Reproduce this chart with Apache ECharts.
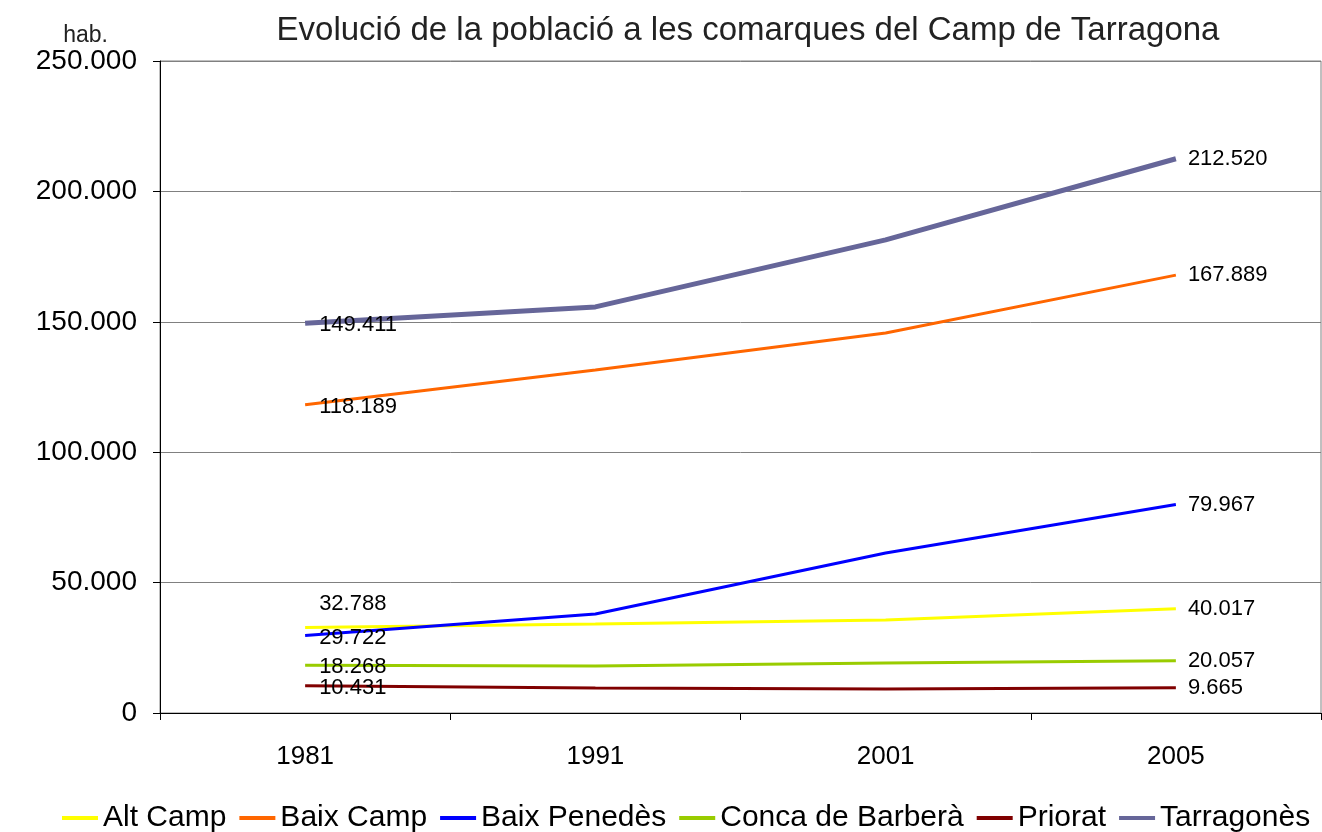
<!DOCTYPE html>
<html>
<head>
<meta charset="utf-8">
<script src="https://cdn.jsdelivr.net/npm/echarts@6/dist/echarts.min.js"></script>
<style>
  html, body { margin: 0; padding: 0; background: #fff; }
  #main { width: 1322px; height: 832px; }
</style>
</head>
<body>
<div id="main"></div>
<script>
var years = ['1981', '1991', '2001', '2005'];
var altCamp = [32788, 34100, 35650, 40017];
var baixCamp = [118189, 131500, 145700, 167889];
var baixPenedes = [29722, 37950, 61350, 79967];
var concaBarbera = [18268, 18000, 19150, 20057];
var priorat = [10431, 9600, 9200, 9665];
var tarragones = [149411, 155700, 181400, 212520];
var yTicks = [0, 50000, 100000, 150000, 200000, 250000];

function fmt(v) {
    return String(v).replace(/\B(?=(\d{3})+(?!\d))/g, '.');
}

// label only on first and last point
function points(values, firstOffset) {
    return values.map(function (v, i) {
        var item = { value: v };
        if (i === 0) {
            item.label = { show: true, position: 'right', distance: 14, offset: firstOffset || [0, 2] };
        } else if (i === values.length - 1) {
            item.label = { show: true, position: 'right', distance: 12 };
        }
        return item;
    });
}

function line(name, color, width, values, firstOffset) {
    return {
        name: name,
        type: 'line',
        symbol: 'circle',
        symbolSize: 0,
        showSymbol: true,
        color: color,
        itemStyle: { color: color },
        lineStyle: { color: color, width: width },
        label: {
            show: false,
            color: '#000',
            fontSize: 22,
            fontFamily: 'Liberation Sans',
            formatter: function (p) { return fmt(p.value); }
        },
        emphasis: { disabled: true },
        data: points(values, firstOffset),
        animation: false
    };
}

var chart = echarts.init(document.getElementById('main'));
chart.setOption({
    title: {
        text: 'Evolució de la població a les comarques del Camp de Tarragona',
        left: 743,
        textAlign: 'center',
        top: 9,
        textStyle: { color: '#222', fontSize: 33, fontWeight: 'normal', fontFamily: 'Liberation Sans' }
    },
    legend: {
        top: 798,
        left: 57,
        icon: 'rect',
        itemWidth: 36,
        itemHeight: 4,
        itemGap: 13,
        textStyle: { color: '#000', fontSize: 30, fontFamily: 'Liberation Sans' },
        data: ['Alt Camp', 'Baix Camp', 'Baix Penedès', 'Conca de Barberà', 'Priorat', 'Tarragonès']
    },
    grid: { left: 160, right: 1, top: 61, bottom: 119, show: true, borderColor: '#808080', borderWidth: 1 },
    xAxis: {
        type: 'category',
        data: years,
        boundaryGap: true,
        axisLine: { lineStyle: { color: '#000', width: 1 } },
        axisTick: { show: true, length: 7, lineStyle: { color: '#000' } },
        axisLabel: { color: '#000', fontSize: 26, fontFamily: 'Liberation Sans', margin: 31 }
    },
    yAxis: {
        type: 'value',
        min: 0,
        max: 250000,
        interval: 50000,
        name: 'hab.',
        nameLocation: 'end',
        nameGap: 12,
        nameTextStyle: { color: '#222', fontSize: 23, fontFamily: 'Liberation Sans', align: 'right', padding: [0, 52, 0, 0] },
        axisLine: { show: true, lineStyle: { color: '#000', width: 1 } },
        axisTick: { show: true, length: 7, lineStyle: { color: '#000' } },
        splitLine: { show: true, lineStyle: { color: '#808080', width: 1 } },
        axisLabel: {
            color: '#000',
            fontSize: 28,
            fontFamily: 'Liberation Sans',
            margin: 23,
            formatter: function (v) { return yTicks.indexOf(v) >= 0 ? fmt(v) : ''; }
        }
    },
    series: [
        line('Alt Camp', '#FFFF00', 3, altCamp, [0, -24]),
        line('Baix Camp', '#FF6600', 3, baixCamp),
        line('Baix Penedès', '#0000FF', 3, baixPenedes),
        line('Conca de Barberà', '#99CC00', 3, concaBarbera),
        line('Priorat', '#800000', 3, priorat),
        line('Tarragonès', '#666699', 5, tarragones)
    ]
});
window.addEventListener('resize', function () { chart.resize(); });
</script>
</body>
</html>
